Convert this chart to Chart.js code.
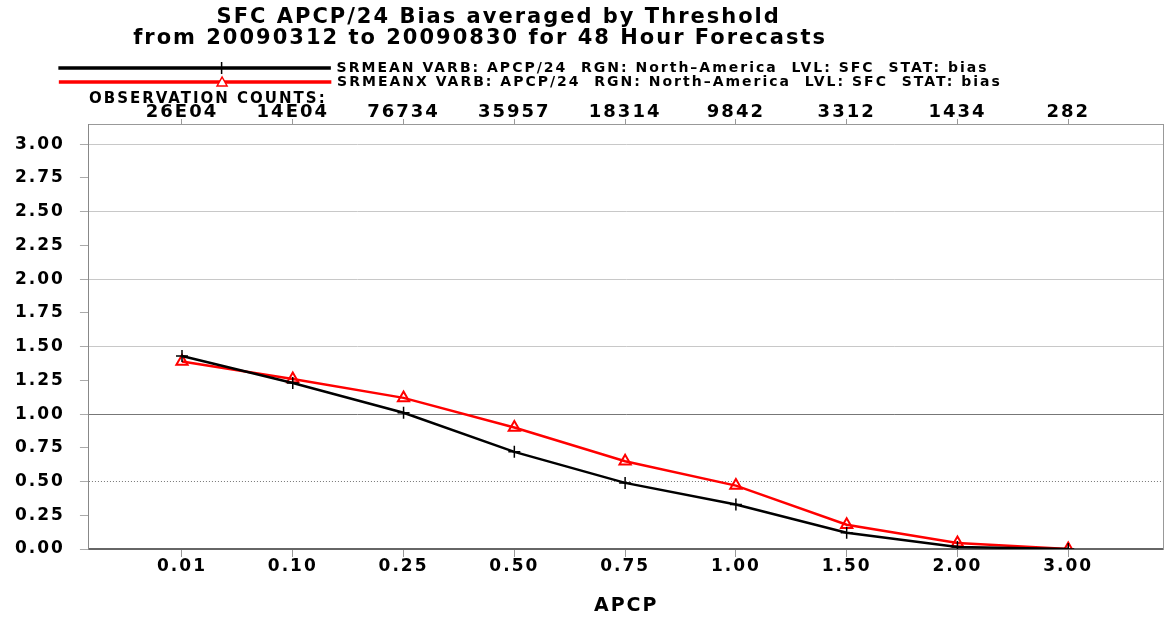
<!DOCTYPE html>
<html lang="en">
<head>
    <meta charset="UTF-8">
    <title>SFC APCP/24 Bias averaged by Threshold</title>
    <script src="https://cdn.jsdelivr.net/npm/chart.js@4/dist/chart.umd.min.js"></script>
    <style>
        html, body { margin: 0; padding: 0; background: #fff; }
        #box { width: 1172px; height: 620px; }
    </style>
</head>
<body>
<div id="box">
    <canvas id="bias"></canvas>
</div>
<script>
    // thresholds along the bottom axis, observation counts along the top
    var thresholds = ["0.01", "0.10", "0.25", "0.50", "0.75", "1.00", "1.50", "2.00", "3.00"];
    var obsCounts = ["26E04", "14E04", "76734", "35957", "18314", "9842", "3312", "1434", "282"];

    // bias values
    var srmean = [1.43, 1.23, 1.01, 0.72, 0.49, 0.33, 0.12, 0.015, 0.0];
    var srmeanx = [1.39, 1.26, 1.12, 0.90, 0.65, 0.47, 0.18, 0.045, 0.0];

    var yTicks = [0, 0.25, 0.5, 0.75, 1, 1.25, 1.5, 1.75, 2, 2.25, 2.5, 2.75, 3];

    var font = "'DejaVu Sans', sans-serif";
    var nb = function (n) { return '\u00a0'.repeat(n); };

    function toPoints(values) {
        return values.map(function (v, i) { return {x: i, y: v}; });
    }

    function indexTicks(scale) {
        scale.ticks = thresholds.map(function (t, i) { return {value: i}; });
    }

    // the original lettering is set wide
    var wideText = {
        id: 'wideText',
        beforeUpdate: function (chart) { chart.ctx.letterSpacing = '2px'; },
        beforeDraw: function (chart) { chart.ctx.letterSpacing = '2px'; }
    };

    // draws the series marker in the middle of each legend line
    var legendMarkers = {
        id: 'legendMarkers',
        afterDraw: function (chart) {
            var legend = chart.legend;
            if (!legend || !legend.legendHitBoxes) return;
            var ctx = chart.ctx;
            legend.legendHitBoxes.forEach(function (hb, i) {
                var ds = chart.data.datasets[i];
                var x = hb.left + 162;
                var y = hb.top + hb.height / 2;
                ctx.save();
                ctx.strokeStyle = ds.borderColor;
                ctx.lineWidth = 1.5;
                ctx.beginPath();
                if (ds.pointStyle === 'triangle') {
                    ctx.moveTo(x, y - 5);
                    ctx.lineTo(x + 5, y + 4);
                    ctx.lineTo(x - 5, y + 4);
                    ctx.closePath();
                    ctx.fillStyle = '#fff';
                    ctx.fill();
                } else {
                    ctx.moveTo(x, y - 6);
                    ctx.lineTo(x, y + 6);
                    ctx.moveTo(x - 5, y);
                    ctx.lineTo(x + 5, y);
                }
                ctx.stroke();
                ctx.restore();
            });
        }
    };

    var srmeanSet = {
        label: "SRMEAN VARB: APCP/24  RGN: North\u2013America  LVL: SFC  STAT: bias" + nb(17),
        data: toPoints(srmean),
        borderColor: '#000000',
        backgroundColor: '#000000',
        borderWidth: 2.5,
        pointStyle: 'cross',
        pointRadius: 6,
        pointBorderWidth: 1.5,
        pointBorderColor: '#000000',
        tension: 0
    };

    var srmeanxSet = {
        label: "SRMEANX VARB: APCP/24  RGN: North\u2013America  LVL: SFC  STAT: bias" + nb(15),
        data: toPoints(srmeanx),
        borderColor: '#ff0000',
        backgroundColor: '#ff0000',
        borderWidth: 2.5,
        pointStyle: 'triangle',
        pointRadius: 6.5,
        pointBorderWidth: 2,
        pointBorderColor: '#ff0000',
        pointBackgroundColor: 'rgba(255,255,255,0)',
        tension: 0
    };

    var ctx = document.getElementById('bias').getContext('2d');
    var biasChart = new Chart(ctx, {
        type: 'line',
        data: {datasets: [srmeanSet, srmeanxSet]},
        plugins: [wideText, legendMarkers],
        options: {
            responsive: true,
            maintainAspectRatio: false,
            animation: false,
            layout: {padding: {left: 0, right: 7, top: 0, bottom: 4}},
            plugins: {
                title: {
                    display: true,
                    text: ["SFC APCP/24 Bias averaged by Threshold" + nb(18),
                        "from 20090312 to 20090830 for 48 Hour Forecasts" + nb(22)],
                    color: '#000',
                    font: {family: font, size: 21, weight: 'bold', lineHeight: 1},
                    padding: {top: 7, bottom: 12}
                },
                legend: {
                    display: true,
                    align: 'center',
                    labels: {
                        boxWidth: 270,
                        boxHeight: 1,
                        padding: 0,
                        color: '#000',
                        font: {family: font, size: 14, weight: 'bold', lineHeight: 1}
                    }
                },
                tooltip: {enabled: false}
            },
            scales: {
                x: {
                    type: 'linear',
                    position: 'bottom',
                    min: -0.84,
                    max: 8.86,
                    afterBuildTicks: indexTicks,
                    ticks: {
                        autoSkip: false,
                        maxRotation: 0,
                        padding: 1,
                        color: '#000',
                        font: {family: font, size: 17, weight: 'bold', lineHeight: 1},
                        callback: function (value) { return thresholds[value]; }
                    },
                    grid: {drawOnChartArea: false, tickLength: 8, tickColor: '#999'},
                    border: {color: '#666', width: 2},
                    title: {
                        display: true,
                        text: 'APCP',
                        color: '#000',
                        font: {family: font, size: 19, weight: 'bold', lineHeight: 1},
                        padding: {top: 21, bottom: 0}
                    }
                },
                x2: {
                    type: 'linear',
                    position: 'top',
                    min: -0.84,
                    max: 8.86,
                    afterBuildTicks: indexTicks,
                    ticks: {
                        autoSkip: false,
                        maxRotation: 0,
                        padding: -2,
                        color: '#000',
                        font: {family: font, size: 18, weight: 'bold', lineHeight: 1},
                        callback: function (value) { return obsCounts[value]; }
                    },
                    grid: {drawOnChartArea: false, tickLength: 5, tickColor: '#999'},
                    border: {color: '#999', width: 1},
                    title: {
                        display: true,
                        text: 'OBSERVATION COUNTS:',
                        align: 'start',
                        color: '#000',
                        font: {family: font, size: 15, weight: 'bold', lineHeight: 1},
                        padding: {top: -7, bottom: -2}
                    }
                },
                y: {
                    min: 0,
                    max: 3.15,
                    afterBuildTicks: function (scale) {
                        scale.ticks = yTicks.map(function (v) { return {value: v}; });
                    },
                    ticks: {
                        padding: 15,
                        color: '#000',
                        font: {family: font, size: 17, weight: 'bold', lineHeight: 1},
                        callback: function (value) { return value.toFixed(2); }
                    },
                    grid: {
                        tickLength: 9,
                        tickColor: '#aaa',
                        lineWidth: 1,
                        color: function (c) {
                            var v = c.tick ? c.tick.value : 0;
                            if (v === 1) return '#777';
                            if (v === 0.5 || v === 0) return 'rgba(0,0,0,0)';
                            return (v * 2) % 1 === 0 ? '#c8c8c8' : 'rgba(0,0,0,0)';
                        }
                    },
                    border: {color: '#888', width: 1}
                },
                yRight: {
                    position: 'right',
                    min: 0,
                    max: 3.15,
                    ticks: {display: false},
                    grid: {drawOnChartArea: false, drawTicks: false},
                    border: {color: '#999', width: 1}
                },
                yDot: {
                    position: 'right',
                    min: 0,
                    max: 3.15,
                    afterBuildTicks: function (scale) {
                        scale.ticks = [{value: 0.5}];
                    },
                    ticks: {display: false},
                    grid: {drawTicks: false, color: '#777', lineWidth: 1},
                    border: {display: false, dash: [1, 2]}
                }
            }
        }
    });
</script>
</body>
</html>
